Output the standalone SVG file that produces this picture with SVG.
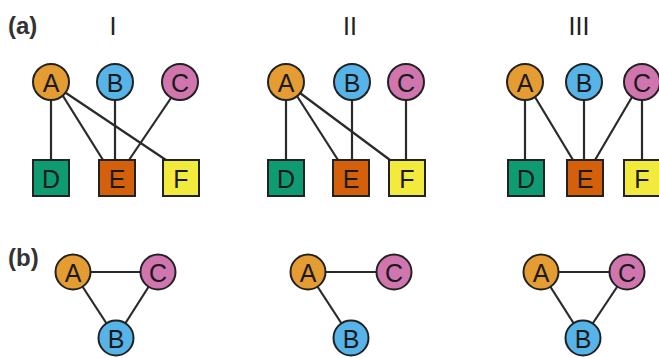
<svg xmlns="http://www.w3.org/2000/svg" width="659" height="358" viewBox="0 0 659 358">
<style>
.e{stroke:#2a2a2a;stroke-width:2.2;fill:none}
.n{stroke:#222;stroke-width:2}
.t{font-family:"Liberation Sans",Arial,sans-serif;font-size:25px;fill:#1a1a1a;text-anchor:middle;dominant-baseline:central}
.h{font-family:"Liberation Sans",Arial,sans-serif;font-size:25px;fill:#222;text-anchor:middle}
.p{font-family:"Liberation Sans",Arial,sans-serif;font-size:24px;font-weight:bold;fill:#333}
.A{fill:#E59C32}.B{fill:#56B4E8}.C{fill:#D075AE}.D{fill:#0F9B72}.E{fill:#D4600C}.F{fill:#F3EA3E}
</style>
<text class="p" x="8" y="34">(a)</text>
<text class="p" x="8" y="266">(b)</text>
<text class="h" x="113" y="35">I</text>
<text class="h" x="350" y="35">II</text>
<text class="h" x="579" y="35">III</text>
<g id="connectors">
<line class="e" x1="51" y1="100" x2="51" y2="160"/>
<line class="e" x1="63" y1="96" x2="103" y2="160"/>
<line class="e" x1="66" y1="93" x2="166" y2="160"/>
<line class="e" x1="115" y1="100" x2="115" y2="160"/>
<line class="e" x1="171" y1="98" x2="129" y2="160"/>
<line class="e" x1="286" y1="100" x2="286" y2="160"/>
<line class="e" x1="297" y1="96" x2="338" y2="160"/>
<line class="e" x1="300" y1="93" x2="390" y2="160"/>
<line class="e" x1="352" y1="100" x2="352" y2="160"/>
<line class="e" x1="406" y1="100" x2="406" y2="160"/>
<line class="e" x1="525" y1="100" x2="525" y2="160"/>
<line class="e" x1="535" y1="97" x2="573" y2="160"/>
<line class="e" x1="584" y1="100" x2="584" y2="160"/>
<line class="e" x1="632" y1="97" x2="595" y2="160"/>
<line class="e" x1="642" y1="100" x2="642" y2="160"/>
<line class="e" x1="73" y1="272" x2="158" y2="272"/>
<line class="e" x1="73" y1="272" x2="116" y2="338"/>
<line class="e" x1="158" y1="272" x2="116" y2="338"/>
<line class="e" x1="308" y1="272" x2="394" y2="272"/>
<line class="e" x1="308" y1="272" x2="351" y2="338"/>
<line class="e" x1="541" y1="272" x2="627" y2="272"/>
<line class="e" x1="541" y1="272" x2="583" y2="338"/>
<line class="e" x1="627" y1="272" x2="583" y2="338"/>
</g>
<g id="I-A"><circle class="n A" cx="51" cy="82" r="18"/><text class="t" x="51" y="83">A</text></g>
<g id="I-B"><circle class="n B" cx="115" cy="82" r="18"/><text class="t" x="115" y="83">B</text></g>
<g id="I-C"><circle class="n C" cx="180" cy="82" r="18"/><text class="t" x="180" y="83">C</text></g>
<g id="I-D"><rect class="n D" x="33" y="160" width="36" height="36"/><text class="t" x="51" y="179">D</text></g>
<g id="I-E"><rect class="n E" x="99" y="160" width="36" height="36"/><text class="t" x="117" y="179">E</text></g>
<g id="I-F"><rect class="n F" x="163" y="160" width="36" height="36"/><text class="t" x="181" y="179">F</text></g>
<g id="II-A"><circle class="n A" cx="286" cy="82" r="18"/><text class="t" x="286" y="83">A</text></g>
<g id="II-B"><circle class="n B" cx="352" cy="82" r="18"/><text class="t" x="352" y="83">B</text></g>
<g id="II-C"><circle class="n C" cx="406" cy="82" r="18"/><text class="t" x="406" y="83">C</text></g>
<g id="II-D"><rect class="n D" x="268" y="160" width="36" height="36"/><text class="t" x="286" y="179">D</text></g>
<g id="II-E"><rect class="n E" x="333" y="160" width="36" height="36"/><text class="t" x="351" y="179">E</text></g>
<g id="II-F"><rect class="n F" x="389" y="160" width="36" height="36"/><text class="t" x="407" y="179">F</text></g>
<g id="III-A"><circle class="n A" cx="525" cy="82" r="18"/><text class="t" x="525" y="83">A</text></g>
<g id="III-B"><circle class="n B" cx="584" cy="82" r="18"/><text class="t" x="584" y="83">B</text></g>
<g id="III-C"><circle class="n C" cx="642" cy="82" r="18"/><text class="t" x="642" y="83">C</text></g>
<g id="III-D"><rect class="n D" x="508" y="160" width="36" height="36"/><text class="t" x="526" y="179">D</text></g>
<g id="III-E"><rect class="n E" x="567" y="160" width="36" height="36"/><text class="t" x="585" y="179">E</text></g>
<g id="III-F"><rect class="n F" x="624" y="160" width="36" height="36"/><text class="t" x="642" y="179">F</text></g>
<g id="bI-A"><circle class="n A" cx="73" cy="272" r="17.5"/><text class="t" x="73" y="273">A</text></g>
<g id="bI-C"><circle class="n C" cx="158" cy="272" r="17.5"/><text class="t" x="158" y="273">C</text></g>
<g id="bI-B"><circle class="n B" cx="116" cy="338" r="17.5"/><text class="t" x="116" y="339">B</text></g>
<g id="bII-A"><circle class="n A" cx="308" cy="272" r="17.5"/><text class="t" x="308" y="273">A</text></g>
<g id="bII-C"><circle class="n C" cx="394" cy="272" r="17.5"/><text class="t" x="394" y="273">C</text></g>
<g id="bII-B"><circle class="n B" cx="351" cy="338" r="17.5"/><text class="t" x="351" y="339">B</text></g>
<g id="bIII-A"><circle class="n A" cx="541" cy="272" r="17.5"/><text class="t" x="541" y="273">A</text></g>
<g id="bIII-C"><circle class="n C" cx="627" cy="272" r="17.5"/><text class="t" x="627" y="273">C</text></g>
<g id="bIII-B"><circle class="n B" cx="583" cy="338" r="17.5"/><text class="t" x="583" y="339">B</text></g>
</svg>
